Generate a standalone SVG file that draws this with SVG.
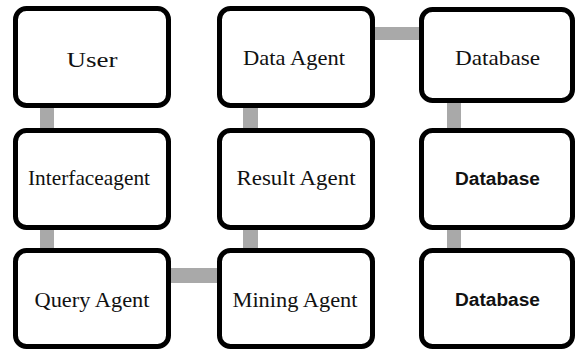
<svg xmlns="http://www.w3.org/2000/svg" width="576" height="352" viewBox="0 0 576 352">
<style>
.box{fill:#fff;stroke:#000;stroke-width:5}
.con{fill:#a9a9a9;stroke:none}
.t{font-family:"Liberation Serif",serif;font-size:22px;fill:#111;text-anchor:middle}
.tb{font-family:"Liberation Sans",sans-serif;font-weight:bold;font-size:18px;fill:#111;text-anchor:middle}
</style>
<rect width="576" height="352" fill="#fff"/>
<g id="connectors">
<rect class="con" x="40" y="104" width="14" height="150"/>
<rect class="con" x="243" y="104" width="15" height="150"/>
<rect class="con" x="447" y="100" width="14" height="152"/>
<rect class="con" x="372" y="27" width="50" height="13"/>
<rect class="con" x="168" y="268" width="52" height="15"/>
</g>
<g id="user">
<rect class="box" x="15.5" y="8.5" width="153" height="97" rx="11"/>
<text class="t" x="92" y="67" font-size="29" textLength="51" lengthAdjust="spacingAndGlyphs">User</text>
</g>
<g id="interfaceagent">
<rect class="box" x="15.5" y="130.5" width="153" height="97" rx="11"/>
<text class="t" x="89" y="185" textLength="122" lengthAdjust="spacingAndGlyphs">Interfaceagent</text>
</g>
<g id="query-agent">
<rect class="box" x="15.5" y="250.5" width="153" height="96" rx="11"/>
<text class="t" x="92" y="307" textLength="115" lengthAdjust="spacingAndGlyphs">Query Agent</text>
</g>
<g id="data-agent">
<rect class="box" x="219.5" y="8.5" width="153" height="97" rx="11"/>
<text class="t" x="294" y="65" textLength="102" lengthAdjust="spacingAndGlyphs">Data Agent</text>
</g>
<g id="result-agent">
<rect class="box" x="219.5" y="130.5" width="153" height="97" rx="11"/>
<text class="t" x="296" y="185" textLength="119" lengthAdjust="spacingAndGlyphs">Result Agent</text>
</g>
<g id="mining-agent">
<rect class="box" x="219.5" y="250.5" width="153" height="96" rx="11"/>
<text class="t" x="295" y="307" textLength="125" lengthAdjust="spacingAndGlyphs">Mining Agent</text>
</g>
<g id="database-1">
<rect class="box" x="421.5" y="9.5" width="151" height="91" rx="11"/>
<text class="t" x="497.5" y="65" textLength="85" lengthAdjust="spacingAndGlyphs">Database</text>
</g>
<g id="database-2">
<rect class="box" x="421.5" y="130.5" width="151" height="97" rx="11"/>
<text class="tb" x="497.5" y="185" textLength="85" lengthAdjust="spacingAndGlyphs">Database</text>
</g>
<g id="database-3">
<rect class="box" x="421.5" y="250.5" width="151" height="96" rx="11"/>
<text class="tb" x="497.5" y="306" textLength="85" lengthAdjust="spacingAndGlyphs">Database</text>
</g>
</svg>
